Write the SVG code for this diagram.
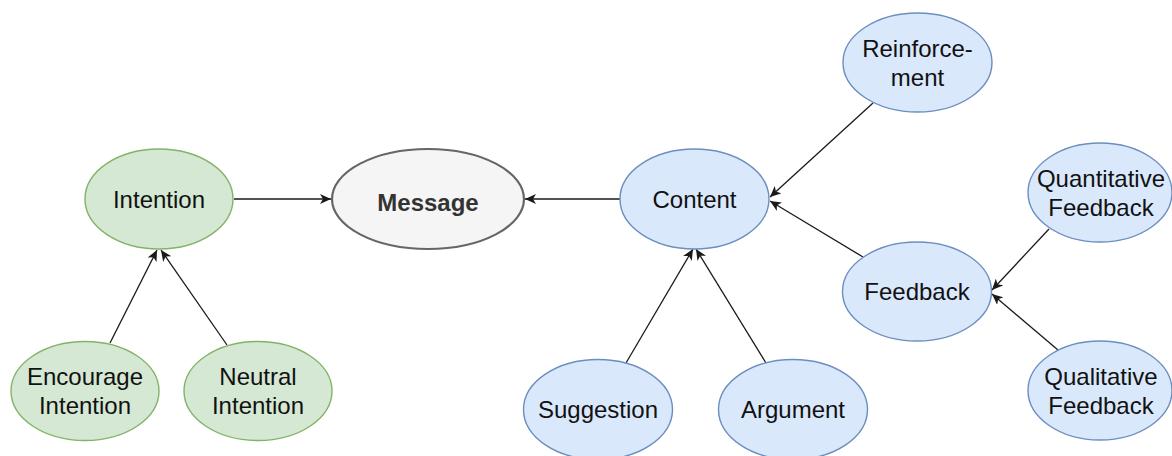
<svg xmlns="http://www.w3.org/2000/svg" width="1172" height="456" viewBox="0 0 1172 456">
  <defs>
    <style>
      .green { fill: #d5e8d4; stroke: #82b366; stroke-width: 1.4; }
      .blue { fill: #dae8fc; stroke: #6c8ebf; stroke-width: 1.4; }
      .grey { fill: #f5f5f5; stroke: #666666; stroke-width: 2.2; }
      .label { font-family: "Liberation Sans", Arial, sans-serif; font-size: 24px; fill: #111111; text-anchor: middle; }
      .bold { font-weight: bold; fill: #333333; }
      .edge { fill: none; stroke: #1a1a1a; stroke-width: 1.3; marker-end: url(#arrow); }
    </style>
    <marker id="arrow" viewBox="0 0 12 10" refX="11" refY="5" markerWidth="12" markerHeight="10" markerUnits="userSpaceOnUse" orient="auto">
      <path d="M0,0 L11,5 L0,10 L3,5 Z" fill="#1a1a1a"/>
    </marker>
  </defs>

  <!-- connectors -->
  <g id="edges">
    <line class="edge" x1="234" y1="199" x2="331" y2="199"/>
    <line class="edge" x1="620" y1="199" x2="525" y2="199"/>
    <line class="edge" x1="110" y1="343" x2="157" y2="250"/>
    <line class="edge" x1="227" y1="345" x2="161" y2="250"/>
    <line class="edge" x1="626" y1="363" x2="693" y2="249"/>
    <line class="edge" x1="766" y1="363" x2="696" y2="249"/>
    <line class="edge" x1="873" y1="103" x2="770" y2="197"/>
    <line class="edge" x1="863" y1="257" x2="770" y2="201"/>
    <line class="edge" x1="1049" y1="229" x2="992" y2="290"/>
    <line class="edge" x1="1058" y1="350" x2="992" y2="294"/>
  </g>

  <g id="intention">
    <ellipse class="green" cx="159" cy="199" rx="74" ry="50"/>
    <text class="label" x="159" y="208">Intention</text>
  </g>
  <g id="message">
    <ellipse class="grey" cx="428" cy="199" rx="96" ry="50"/>
    <text class="label bold" x="428" y="211">Message</text>
  </g>
  <g id="encourage-intention">
    <ellipse class="green" cx="85" cy="391" rx="74" ry="49.5"/>
    <text class="label" x="85" y="385">Encourage</text>
    <text class="label" x="85" y="414">Intention</text>
  </g>
  <g id="neutral-intention">
    <ellipse class="green" cx="258" cy="391" rx="74" ry="49.5"/>
    <text class="label" x="258" y="385">Neutral</text>
    <text class="label" x="258" y="414">Intention</text>
  </g>
  <g id="content">
    <ellipse class="blue" cx="694.5" cy="199" rx="74.5" ry="50"/>
    <text class="label" x="694.5" y="208">Content</text>
  </g>
  <g id="suggestion">
    <ellipse class="blue" cx="598" cy="409.5" rx="74.5" ry="50"/>
    <text class="label" x="598" y="418">Suggestion</text>
  </g>
  <g id="argument">
    <ellipse class="blue" cx="793" cy="409.5" rx="74.5" ry="50"/>
    <text class="label" x="793" y="418">Argument</text>
  </g>
  <g id="reinforcement">
    <ellipse class="blue" cx="917.5" cy="62.5" rx="74.5" ry="49.5"/>
    <text class="label" x="917.5" y="57">Reinforce-</text>
    <text class="label" x="917.5" y="86">ment</text>
  </g>
  <g id="feedback">
    <ellipse class="blue" cx="917" cy="291.5" rx="74.5" ry="49.5"/>
    <text class="label" x="917" y="300">Feedback</text>
  </g>
  <g id="quantitative-feedback">
    <ellipse class="blue" cx="1100" cy="192.5" rx="72" ry="49.5"/>
    <text class="label" x="1101" y="187">Quantitative</text>
    <text class="label" x="1101" y="216">Feedback</text>
  </g>
  <g id="qualitative-feedback">
    <ellipse class="blue" cx="1100" cy="390.5" rx="72" ry="49.5"/>
    <text class="label" x="1101" y="385">Qualitative</text>
    <text class="label" x="1101" y="414">Feedback</text>
  </g>
</svg>
